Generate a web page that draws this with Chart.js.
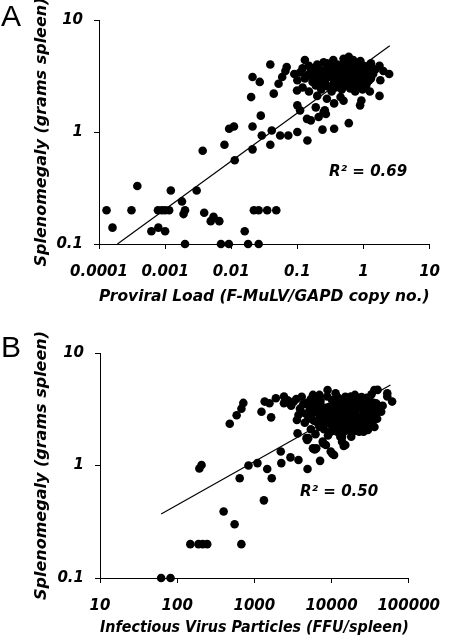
<!DOCTYPE html>
<html><head><meta charset="utf-8">
<script src="https://cdn.jsdelivr.net/npm/chart.js@4.4.1/dist/chart.umd.min.js"></script>
<style>
html,body{margin:0;padding:0;background:#fff;width:454px;height:642px;overflow:hidden;}
#wrap{position:relative;width:454px;height:642px;}
canvas{position:absolute;left:0;}
.lbl{position:absolute;font-family:"Liberation Sans",Arial,sans-serif;font-size:30px;line-height:30px;color:#000;}
.r2{position:absolute;font-family:"DejaVu Sans",sans-serif;font-weight:bold;font-style:italic;font-size:15px;line-height:18px;color:#000;white-space:nowrap;}
</style></head><body>
<div id="wrap">
<canvas id="cA" width="454" height="321" style="top:0"></canvas>
<canvas id="cB" width="454" height="312" style="top:330px"></canvas>
<div class="lbl" style="left:1px;top:1px">A</div>
<div class="lbl" style="left:1px;top:332px">B</div>
<div class="r2" style="left:329px;top:162px">R² = 0.69</div>
<div class="r2" style="left:300px;top:482px">R² = 0.50</div>
</div>
<script>
// ---------- Panel A: proviral load vs splenomegaly ----------
const aXTicks = [0.0001, 0.001, 0.01, 0.1, 1, 10];
const aXLabels = ['0.0001', '0.001', '0.01', '0.1', '1', '10'];
const yTicks = [0.1, 1, 10];
const yLabels = ['0.1', '1', '10'];
const aXTitle = 'Proviral Load (F-MuLV/GAPD copy no.)';
const yTitle = 'Splenomegaly (grams spleen)';

const aLowX = [0.00013,0.00016,0.00031,0.00038,0.00062,0.00079,0.001,0.00078,0.00089,0.001,0.00115,0.00122,0.0018,0.002,0.0019,0.002,0.003,0.0037,0.0039,0.0054,0.0049,0.0066,0.007,0.0092,0.0079,0.0093,0.011,0.0113,0.016,0.018,0.026,0.021,0.021,0.022,0.026,0.035,0.048,0.029,0.041,0.039,0.055,0.073,0.1,0.028,0.142,0.16,0.24,0.36,0.6];
const aLowY = [0.2,0.14,0.2,0.33,0.13,0.14,0.13,0.2,0.2,0.2,0.2,0.3,0.24,0.2,0.185,0.1,0.3,0.68,0.19,0.175,0.16,0.16,0.1,0.1,0.77,1.07,1.12,0.56,0.13,0.1,0.1,0.7,1.12,0.2,0.2,0.2,0.2,0.93,1.03,0.77,0.93,0.93,1.0,1.4,0.84,1.27,1.05,1.07,1.2];

const aMidX = [0.039,0.021,0.027,0.069,0.066,0.059,0.052,0.02,0.044,0.1,0.14,0.19,0.26,0.21,0.27,0.25,0.28,0.93,0.89,1.75,0.45,0.5,0.36,1.8,0.099,0.2,0.11];
const aMidY = [4.0,3.1,2.8,3.8,3.5,3.1,2.7,2.05,2.2,1.73,1.31,1.66,1.56,1.36,1.45,1.5,1.98,1.91,1.73,2.1,2.05,1.9,1.8,2.9,2.35,2.1,1.56];

const aClusterX = [0.13,0.6,0.5,0.35,0.7,0.9,0.25,
  0.15,0.2,0.28,0.4,0.55,0.75,1.0,1.3,1.75,0.12,0.32,0.45,0.65,0.85,1.1,1.5,
  0.11,0.14,0.18,0.22,0.27,0.3,0.37,0.42,0.5,0.58,0.62,0.7,0.8,0.95,1.05,1.2,1.4,2.0,2.45,0.09,0.16,0.34,0.46,0.52,0.68,0.88,
  0.1,0.13,0.17,0.21,0.26,0.31,0.36,0.4,0.48,0.55,0.6,0.72,0.78,0.9,1.0,1.15,1.3,0.24,0.44,0.66,
  0.12,0.19,0.23,0.29,0.33,0.38,0.47,0.53,0.63,0.75,0.82,0.97,1.1,1.25,0.15];
const aClusterY = [4.4,4.7,4.5,4.4,4.4,4.3,4.2,
  3.9,4.0,4.1,4.0,4.2,4.0,3.9,4.1,3.9,3.7,3.8,3.9,3.8,3.7,3.8,3.6,
  3.4,3.2,3.5,3.3,3.6,3.4,3.5,3.3,3.6,3.4,3.2,3.5,3.3,3.4,3.2,3.5,3.3,3.5,3.3,3.3,3.6,3.2,3.5,3.3,3.6,3.5,
  2.9,3.0,2.8,3.0,2.9,3.1,2.8,3.0,2.9,3.1,2.8,3.0,2.7,2.9,3.1,2.8,3.0,2.7,2.7,2.95,
  2.5,2.6,2.4,2.55,2.3,2.5,2.4,2.6,2.45,2.3,2.55,2.4,2.6,2.3,2.3];

const aCoreX = [0.19,0.23,0.29,0.33,0.39,0.43,0.49,0.53,0.57,0.63,0.67,0.73,0.77,0.83,0.87,0.93,0.98,1.08,1.18,1.35,
  0.17,0.24,0.31,0.38,0.44,0.51,0.59,0.69,0.79,0.92,1.03,1.22,0.21,0.27,0.35,0.42,0.56,0.64,0.74,0.86];
const aCoreY = [3.75,3.55,3.85,3.65,3.75,3.6,4.0,3.85,3.7,4.05,3.55,3.85,3.6,3.95,3.25,3.65,3.5,3.65,3.05,3.75,
  3.1,3.15,3.25,3.05,3.1,3.2,3.05,3.15,3.05,3.1,3.45,2.9,2.75,2.65,2.65,2.75,2.65,2.6,2.8,2.7];

const aTrendX = [0.00019, 2.5];
const aTrendY = [0.1, 5.9];

// ---------- Panel B: infectious virus vs splenomegaly ----------
const bXTicks = [10, 100, 1000, 10000, 100000];
const bXLabels = ['10', '100', '1000', '10000', '100000'];
const bXTitle = 'Infectious Virus Particles (FFU/spleen)';

const bLowX = [62,82,194,207,148,189,214,245,679,400,555,646,840,1097,1468,1680,1330,2200,2237,2940,3730,4890,4840,6050,7840,7110,10260,13700,14400];
const bLowY = [0.1,0.1,0.94,1.01,0.2,0.2,0.2,0.2,0.2,0.39,0.30,0.77,1.0,1.05,0.93,0.77,0.49,1.33,1.05,1.18,1.12,0.93,1.69,1.39,1.57,1.1,1.27,1.63,1.49];

const bArmX = [480,590,680,720,1237,1650,1360,1570,1900,2420,2420,3230,4110,5750,6980,8890,11300,15100,20100,26900,35900,52800,39500,52800,61000,39500];
const bArmY = [2.35,2.8,3.2,3.6,3.0,2.68,3.7,3.57,3.96,4.1,3.57,3.69,4.09,4.24,4.24,4.69,4.38,4.09,4.24,3.96,4.69,4.38,4.7,4.1,3.7,3.45];

const bMidX = [3630,4740,3560,3730,4990,6340,7690,9770,10800,13700,15100,12400,18300,23300,29600,26900,28200,29500,37700,39500,8450,5750];
const bMidY = [1.93,1.75,2.54,2.81,1.75,1.42,1.63,1.33,1.24,1.8,1.52,2.14,2.21,2.37,2.07,2.54,2.07,2.37,3.57,3.33,1.52,1.42];

const bCoreX = [5200,5600,6100,6500,6900, 7300,7200,8200,8600,9100, 10000,10500,11000,11500,12000, 12600,13200,13800,14500,15200,
  16000,16800,17500,18500,19500, 20500,21500,22500,24000,25500, 27000,28500,30500,33000,35500, 5800,7000,8000,9800,11800,
  14000,17000,21000,25000,31000, 34000,38000,42000,46000, 6300,8800,12200,17800,24500, 30000,33000,
  12400,14800,19000,23000,26000,28000, 4600,4300,3900,3500,3000,2700, 4500,5400,6600,12900,16200, 9300,11200,7600,20000,19000];
const bCoreY = [3.3,2.9,3.6,3.1,2.6, 3.4,3.75,2.9,3.2,2.4, 3.0,2.7,3.3,3.8,2.5, 3.1,3.5,2.3,2.8,3.3,
  3.9,2.6,3.0,3.5,2.4, 2.9,3.3,3.8,2.7,3.1, 3.5,2.9,3.3,2.8,3.1, 3.8,2.2,2.1,2.0,2.0,
  1.95,2.1,2.15,2.25,2.5, 2.45,2.9,3.2,3.4, 4.0,4.1,4.0,4.1,4.05, 3.9,4.3,
  3.6,3.6,3.7,3.3,3.7,2.3, 2.9,3.5,3.2,3.9,3.4,3.8, 2.4,2.1,2.4,2.6,2.3, 2.7,2.25,2.7,2.6,2.0];

const bDenseX = [4800,5400,6000,6700,7500, 8300,9200,10200,11300,12500, 13900,15400,17100,19000,21000, 23300,25800,28600,31700,35000,
  5000,5900,6800,7700,8700, 9900,11200,12700,14400,16300, 18500,21000,23800,27000,30600, 34700,39000,44000,
  9000,13000,18000,26000,36000, 6200,10400,15600,22800,32000];
const bDenseY = [3.6,3.9,3.3,3.7,3.0, 3.25,3.3,3.8,2.9,3.7, 3.2,4.0,3.6,3.1,3.7, 2.6,3.4,4.0,3.7,3.6,
  2.6,2.5,2.9,2.3,2.6, 2.3,2.8,2.0,2.5,2.8, 2.2,2.5,2.1,2.8,2.2, 2.7,2.6,3.0,
  1.85,1.8,1.8,2.0,2.2, 1.9,2.45,2.05,2.0,2.9];

const bTrendX = [62, 58000];
const bTrendY = [0.37, 5.2];

// ---------- drawing ----------
const FAM = '"DejaVu Sans", sans-serif';
const tickFont = {family: FAM, size: 15, weight: 'bold', style: 'italic'};
const titleFont = {family: FAM, size: 16, weight: 'bold', style: 'italic'};

function pts(xs, ys) { return xs.map((x, i) => ({x: x, y: ys[i]})); }

function makeChart(id, o) {
  return new Chart(document.getElementById(id), {
    type: 'scatter',
    data: {datasets: [
      {data: o.points, pointRadius: 4.3, pointBackgroundColor: '#000', pointBorderWidth: 0,
       pointHoverRadius: 4.3, showLine: false, clip: false},
      {data: o.trend, showLine: true, borderColor: '#000', borderWidth: 1.2, pointRadius: 0,
       pointHoverRadius: 0, clip: false}
    ]},
    options: {
      responsive: false, animation: false, devicePixelRatio: 1, events: [],
      layout: {padding: o.pad},
      plugins: {legend: {display: false}, tooltip: {enabled: false}},
      scales: {
        x: {
          type: 'logarithmic', min: o.xTicks[0], max: o.xTicks[o.xTicks.length - 1],
          afterBuildTicks: s => { s.ticks = o.xTicks.map(v => ({value: v, major: true})); },
          afterFit: s => { s.height = o.xh; },
          ticks: {callback: (v, i) => o.xLabels[i], font: tickFont, color: '#000', padding: 14,
                  autoSkip: false, maxRotation: 0, minRotation: 0},
          grid: {display: true, drawOnChartArea: false, drawTicks: true, tickLength: 5, color: '#000', lineWidth: 1},
          border: {display: true, color: '#000', width: 1},
          title: {display: true, text: o.xTitle, font: titleFont, color: '#000', padding: {top: 0, bottom: o.xtp}}
        },
        y: {
          type: 'logarithmic', min: yTicks[0], max: yTicks[yTicks.length - 1],
          afterBuildTicks: s => { s.ticks = yTicks.map(v => ({value: v, major: true})); },
          afterFit: s => { s.width = o.yw; },
          ticks: {callback: (v, i) => yLabels[i], font: tickFont, color: '#000', padding: 11, autoSkip: false},
          grid: {display: true, drawOnChartArea: false, drawTicks: true, tickLength: 5, color: '#000', lineWidth: 1},
          border: {display: true, color: '#000', width: 1},
          title: {display: true, text: yTitle, font: titleFont, color: '#000', padding: {top: 32, bottom: 0}}
        }
      }
    }
  });
}

makeChart('cA', {
  points: pts(aLowX.concat(aMidX, aClusterX, aCoreX), aLowY.concat(aMidY, aClusterY, aCoreY)),
  trend: pts(aTrendX, aTrendY),
  xTicks: aXTicks, xLabels: aXLabels, xTitle: aXTitle,
  pad: {left: 0, right: 16, top: 20, bottom: 0}, xh: 77, yw: 99, xtp: 14.4
});
makeChart('cB', {
  points: pts(bLowX.concat(bArmX, bMidX, bCoreX, bDenseX), bLowY.concat(bArmY, bMidY, bCoreY, bDenseY)),
  trend: pts(bTrendX, bTrendY),
  xTicks: bXTicks, xLabels: bXLabels, xTitle: bXTitle,
  pad: {left: 0, right: 35, top: 23, bottom: 0}, xh: 64, yw: 100, xtp: 4.4
});
</script>
</body></html>
